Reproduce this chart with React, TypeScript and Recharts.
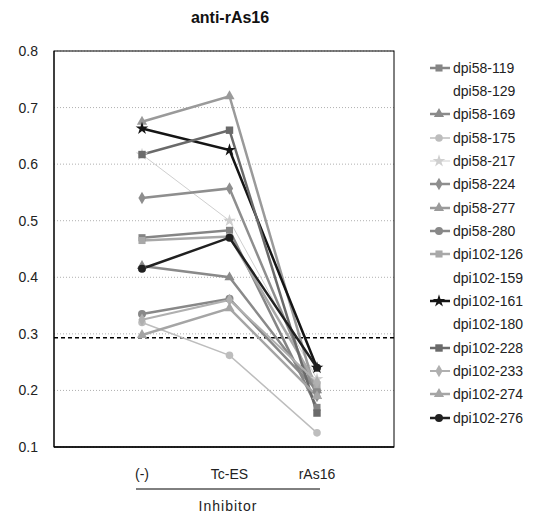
import React from "react"
import {
  LineChart,
  Line,
  XAxis,
  YAxis,
  CartesianGrid,
  ReferenceLine,
  Symbols,
  usePlotArea,
} from "recharts"

const categories = ["(-)", "Tc-ES", "rAs16"]

const seriesNames = [
  "dpi58-119",
  "dpi58-129",
  "dpi58-169",
  "dpi58-175",
  "dpi58-217",
  "dpi58-224",
  "dpi58-277",
  "dpi58-280",
  "dpi102-126",
  "dpi102-159",
  "dpi102-161",
  "dpi102-180",
  "dpi102-228",
  "dpi102-233",
  "dpi102-274",
  "dpi102-276",
]

// values per series, in category order
const dpi58_119 = [0.47, 0.483, 0.17]
const dpi58_129 = [null, null, null]
const dpi58_169 = [0.42, 0.4, 0.2]
const dpi58_175 = [0.32, 0.262, 0.125]
const dpi58_217 = [0.617, 0.5, 0.22]
const dpi58_224 = [0.54, 0.557, 0.19]
const dpi58_277 = [0.675, 0.72, 0.19]
const dpi58_280 = [0.335, 0.362, 0.2]
const dpi102_126 = [0.465, 0.472, 0.21]
const dpi102_159 = [null, null, null]
const dpi102_161 = [0.663, 0.625, 0.24]
const dpi102_180 = [null, null, null]
const dpi102_228 = [0.617, 0.66, 0.16]
const dpi102_233 = [0.325, 0.36, 0.215]
const dpi102_274 = [0.298, 0.345, 0.19]
const dpi102_276 = [0.415, 0.47, 0.24]

const seriesValues = [
  dpi58_119, dpi58_129, dpi58_169, dpi58_175, dpi58_217, dpi58_224, dpi58_277, dpi58_280,
  dpi102_126, dpi102_159, dpi102_161, dpi102_180, dpi102_228, dpi102_233, dpi102_274, dpi102_276,
]

const cutoffValue = 0.293
const yTicks = [0.1, 0.2, 0.3, 0.4, 0.5, 0.6, 0.7, 0.8]

type Style = { shape: string | null; color: string; width: number; size: number }

// marker shape, colour and line width for each series (same order as names)
const STYLES: Style[] = [
  { shape: "square", color: "#858585", width: 2.5, size: 50 },
  { shape: null, color: "none", width: 0, size: 0 },
  { shape: "triangle", color: "#8a8a8a", width: 2.5, size: 45 },
  { shape: "circle", color: "#bdbdbd", width: 1.5, size: 45 },
  { shape: "star", color: "#cfcfcf", width: 1, size: 50 },
  { shape: "diamond", color: "#8e8e8e", width: 2.5, size: 45 },
  { shape: "triangle", color: "#9a9a9a", width: 2.5, size: 45 },
  { shape: "circle", color: "#888888", width: 2.5, size: 50 },
  { shape: "square", color: "#a8a8a8", width: 2.5, size: 50 },
  { shape: null, color: "none", width: 0, size: 0 },
  { shape: "star", color: "#151515", width: 2.5, size: 50 },
  { shape: null, color: "none", width: 0, size: 0 },
  { shape: "square", color: "#6a6a6a", width: 2.5, size: 55 },
  { shape: "diamond", color: "#b0b0b0", width: 2, size: 45 },
  { shape: "triangle", color: "#a5a5a5", width: 2.5, size: 45 },
  { shape: "circle", color: "#202020", width: 2.5, size: 50 },
]

const data = categories.map((cat, i) => {
  const row: Record<string, string | number | null> = { cat }
  seriesNames.forEach((name, s) => {
    row[name] = seriesValues[s][i]
  })
  return row
})

const FONT = "'Liberation Sans', Arial, sans-serif"

// black frame round the plot area
function PlotFrame() {
  const area = usePlotArea()
  if (!area) return null
  return (
    <rect
      x={area.x}
      y={area.y}
      width={area.width}
      height={area.height}
      fill="none"
      stroke="#000"
      strokeWidth={1}
    />
  )
}

function InhibitorLabel(props: any) {
  const { viewBox } = props
  const cx = viewBox.x + viewBox.width / 2 + 4
  const lineY = viewBox.y + 42
  return (
    <g>
      <line x1={cx - 92} x2={cx + 92} y1={lineY} y2={lineY} stroke="#000" strokeWidth={1} />
      <text
        x={cx}
        y={lineY + 22}
        textAnchor="middle"
        fontSize={14}
        fill="#222"
        letterSpacing={1}
        fontFamily={FONT}
      >
        Inhibitor
      </text>
    </g>
  )
}

function LegendBox() {
  return (
    <div style={{ position: "absolute", left: 420, top: 56, fontFamily: FONT }}>
      {seriesNames.map((name, i) => {
        const st = STYLES[i]
        return (
          <div key={name} style={{ height: 23.35, display: "flex", alignItems: "center" }}>
            <svg width={33} height={14} style={{ flex: "none" }}>
              {st.shape && (
                <>
                  <line x1={10} x2={30} y1={7} y2={7} stroke={st.color} strokeWidth={st.width} />
                  <Symbols cx={19} cy={7} type={st.shape as any} size={st.size} fill={st.color} />
                </>
              )}
            </svg>
            <span style={{ fontSize: 14, color: "#222" }}>{name}</span>
          </div>
        )
      })}
    </div>
  )
}

export default function App() {
  return (
    <div style={{ position: "absolute", left: 0, top: 0, width: 534, height: 527, background: "#fff" }}>
      <div
        style={{
          position: "absolute",
          left: 130,
          width: 200,
          top: 9,
          textAlign: "center",
          fontFamily: FONT,
          fontWeight: "bold",
          fontSize: 16,
          color: "#111",
        }}
      >
        anti-rAs16
      </div>
      <LineChart
        width={534}
        height={527}
        data={data}
        margin={{ top: 51, right: 140, bottom: 50, left: 14 }}
      >
        <CartesianGrid vertical={false} stroke="#b0b0b0" strokeDasharray="1 2" />
        <XAxis
          dataKey="cat"
          padding={{ left: 88, right: 77 }}
          tickLine={false}
          axisLine={{ stroke: "#000", strokeWidth: 1.5 }}
          tick={{ fontSize: 14, fill: "#222", fontFamily: FONT }}
          tickMargin={16}
          height={30}
          label={<InhibitorLabel />}
        />
        <YAxis
          domain={[0.1, 0.8]}
          ticks={yTicks}
          tickFormatter={(v: number) => v.toFixed(1)}
          tickLine={false}
          axisLine={{ stroke: "#000" }}
          tick={{ fontSize: 14, fill: "#222", fontFamily: FONT }}
          tickMargin={10}
          width={40}
          interval={0}
        />
        <PlotFrame />
        <ReferenceLine y={cutoffValue} stroke="#000" strokeWidth={1.5} strokeDasharray="4 3" />
        {seriesNames.map((name, i) => {
          const st = STYLES[i]
          if (!st.shape) return null
          return (
            <Line
              key={name}
              dataKey={name}
              stroke={st.color}
              strokeWidth={st.width}
              isAnimationActive={false}
              dot={(p: any) => (
                <Symbols
                  key={`${name}-${p.index}`}
                  cx={p.cx}
                  cy={p.cy}
                  type={st.shape as any}
                  size={st.size}
                  fill={st.color}
                />
              )}
              activeDot={false}
            />
          )
        })}
      </LineChart>
      <LegendBox />
    </div>
  )
}
